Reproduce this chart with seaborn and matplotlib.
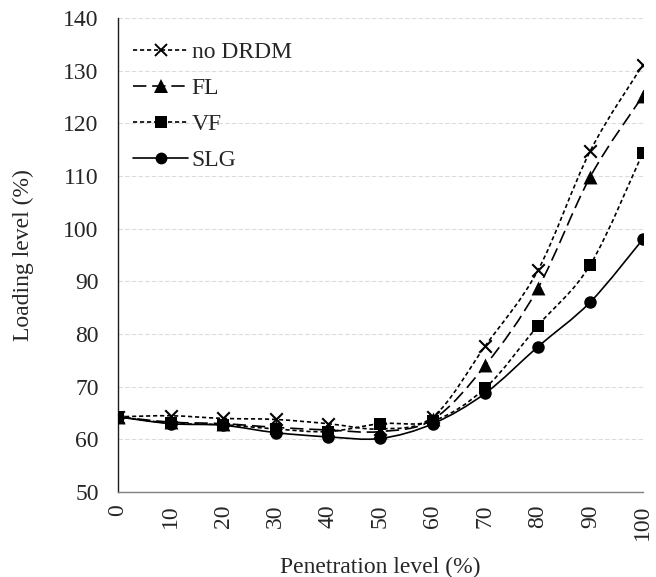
import numpy as np
import pandas as pd
import matplotlib
matplotlib.use('Agg')
import matplotlib.pyplot as plt
from matplotlib.path import Path
from matplotlib.patches import PathPatch
from matplotlib.lines import Line2D
import seaborn as sns

# values
penetration = [0, 10, 20, 30, 40, 50, 60, 70, 80, 90, 100]
no_drdm = [64.3, 64.5, 64.0, 63.8, 63.0, 62.0, 64.3, 77.8, 92.1, 114.8, 131.1]
fl = [64.3, 63.3, 63.0, 62.3, 61.8, 61.5, 63.8, 74.1, 88.7, 109.9, 125.2]
vf = [64.3, 63.1, 62.8, 62.0, 61.5, 63.0, 63.5, 69.8, 81.6, 93.2, 114.4]
slg = [64.3, 63.0, 62.7, 61.3, 60.5, 60.2, 63.0, 68.8, 77.6, 86.1, 98.0]

series_names = ['no DRDM', 'FL', 'VF', 'SLG']
series_values = [no_drdm, fl, vf, slg]
y_ticks = [50, 60, 70, 80, 90, 100, 110, 120, 130, 140]

styles = {
    'no DRDM': dict(marker='x', ls=(0, (2.5, 1.7)), ms=9),
    'FL': dict(marker='^', ls=(0, (8, 3.5)), ms=10),
    'VF': dict(marker='s', ls=(0, (2.5, 1.7)), ms=8.5),
    'SLG': dict(marker='o', ls='-', ms=9),
}

sns.set_style('white')
plt.rcParams['font.family'] = ['Liberation Serif', 'DejaVu Serif']


def smooth_path(xs, ys):
    # Excel-style smoothed line: Catmull-Rom segments as cubic Beziers
    pts = np.column_stack([xs, ys]).astype(float)
    n = len(pts)
    verts = [pts[0]]
    codes = [Path.MOVETO]
    for i in range(n - 1):
        p0 = pts[i - 1] if i > 0 else pts[i]
        p1 = pts[i]
        p2 = pts[i + 1]
        p3 = pts[i + 2] if i + 2 < n else pts[i + 1]
        c1 = p1 + (p2 - p0) / 6.0
        c2 = p2 - (p3 - p1) / 6.0
        verts += [c1, c2, p2]
        codes += [Path.CURVE4] * 3
    return Path(verts, codes)


fig = plt.figure(figsize=(6.56, 5.77), dpi=100)
ax = fig.add_axes([0.18, 0.147, 0.8, 0.822])

handles = []
for name, vals in zip(series_names, series_values):
    st = styles[name]
    patch = PathPatch(smooth_path(penetration, vals), facecolor='none',
                      edgecolor='black', lw=1.2, linestyle=st['ls'], zorder=2)
    ax.add_patch(patch)
    df = pd.DataFrame({'x': penetration, 'y': vals})
    if st['marker'] == 'x':
        sns.scatterplot(data=df, x='x', y='y', marker='x', color='black',
                        s=st['ms'] ** 2, linewidth=1.5, ax=ax, zorder=3)
    else:
        sns.scatterplot(data=df, x='x', y='y', marker=st['marker'], color='black',
                        s=st['ms'] ** 2, edgecolor='black', linewidth=0, ax=ax, zorder=3)
    handles.append(Line2D([], [], color='black', lw=1.2, linestyle=st['ls'],
                          marker=st['marker'], markersize=st['ms'] - 0.5,
                          markeredgewidth=1.4 if st['marker'] == 'x' else 0))

ax.set_xlim(0, 100)
ax.set_ylim(50, 140)
ax.set_xticks(penetration)
ax.set_xticklabels([str(v) for v in penetration], rotation=90, fontsize=17)
ax.set_yticks(y_ticks)
ax.set_yticklabels([str(v) for v in y_ticks], fontsize=17)
ax.tick_params(axis='y', length=0, pad=14)
ax.tick_params(axis='x', length=0, pad=9)

ax.grid(axis='y', color='#dcdcdc', linestyle=(0, (4, 2)), lw=0.8)
ax.set_axisbelow(True)
for side in ['top', 'right']:
    ax.spines[side].set_visible(False)
ax.spines['left'].set_color('#1a1a1a')
ax.spines['left'].set_linewidth(1.0)
ax.spines['bottom'].set_color('#808080')
ax.spines['bottom'].set_linewidth(1.0)

ax.set_xlabel('Penetration level (%)', fontsize=17, labelpad=12)
ax.set_ylabel('Loading level (%)', fontsize=17, labelpad=21)

ax.legend(handles, series_names, loc='upper left', bbox_to_anchor=(-0.017, 1.0),
          frameon=False, fontsize=17, handlelength=2.35, handletextpad=0.15,
          labelspacing=0.61, borderaxespad=0.6)

fig.savefig('out.png', dpi=100)
